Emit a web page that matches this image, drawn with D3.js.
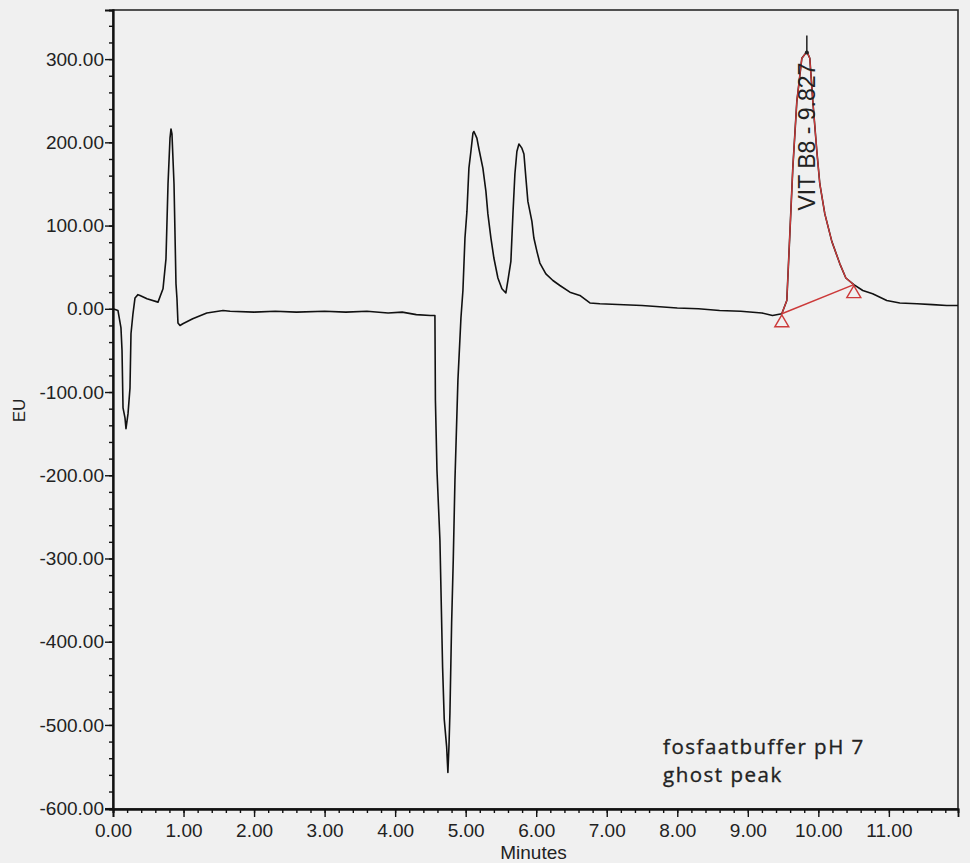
<!DOCTYPE html>
<html>
<head>
<meta charset="utf-8">
<script src="https://cdn.jsdelivr.net/npm/d3@7"></script>
<style>
  html, body { margin: 0; padding: 0; background: #f0f0f0; }
  svg { display: block; }
</style>
</head>
<body>
<svg id="chart" width="970" height="863"></svg>
<script>
// ---- data ----
const times = [
  0.00, 0.07, 0.113, 0.128, 0.142, 0.17, 0.184, 0.213, 0.241, 0.255, 0.283, 0.312, 0.354, 0.383,
  0.482, 0.638, 0.709, 0.751, 0.78, 0.808, 0.822, 0.836, 0.865, 0.893, 0.907, 0.921, 0.95, 0.99,
  1.13, 1.33, 1.56, 1.66, 2.0, 2.3, 2.6, 3.0, 3.3, 3.6, 3.9, 4.1, 4.3, 4.5,
  4.564, 4.571, 4.593, 4.635, 4.673, 4.696, 4.730, 4.748, 4.763, 4.777, 4.801, 4.824, 4.848, 4.89,
  4.933, 4.961, 4.99, 5.018, 5.046, 5.074, 5.103, 5.117, 5.159, 5.188, 5.244, 5.287, 5.315, 5.358,
  5.40, 5.457, 5.514, 5.57, 5.599, 5.641, 5.67, 5.698, 5.726, 5.755, 5.797, 5.826, 5.854, 5.882,
  5.939, 5.967, 6.01, 6.052, 6.137, 6.237, 6.336, 6.478, 6.619, 6.761, 6.903,
  7.5, 8.0, 8.3, 8.6, 8.9, 9.2, 9.35,
  9.482, 9.553, 9.596, 9.638, 9.695, 9.766, 9.837, 9.879, 9.922, 9.979, 10.021, 10.092, 10.191,
  10.305, 10.39, 10.503,
  10.63, 10.77, 10.97, 11.155, 11.40, 11.62, 11.82, 11.98
];
const values = [
  0, -2, -23, -50, -119, -131, -144, -126, -95, -30, -6, 13, 17, 16,
  12, 8, 24, 60, 150, 205, 216, 210, 150, 30, 12, -17, -20, -18,
  -12, -5, -2, -3, -4, -3, -4, -3, -4, -3, -5, -4, -7, -8,
  -8, -110, -194, -278, -431, -493, -526, -557, -526, -485, -377, -302, -206, -86,
  -11, 22, 85, 117, 169, 189, 211, 213, 205, 192, 169, 141, 114, 85,
  61, 37, 24, 19, 34, 57, 114, 162, 189, 198, 193, 186, 157, 129,
  105, 85, 69, 55, 42, 34, 28, 20, 16, 7, 6,
  4, 1, 0, -2, -3, -5, -8,
  -6, 10, 90, 169, 249, 301, 309, 301, 249, 189, 150, 114, 81,
  54, 37, 29,
  22, 18, 10, 7, 6, 5, 4, 4
];

// integrated peak
const peakName = "VIT B8 - 9.827";
const peakStart = [9.482, -6];
const peakEnd = [10.503, 29];
const peakApex = [9.837, 309];

// axes
const xTicks = [0, 1, 2, 3, 4, 5, 6, 7, 8, 9, 10, 11];
const yTicks = [300, 200, 100, 0, -100, -200, -300, -400, -500, -600];
const xLabel = "Minutes";
const yLabel = "EU";
const noteLines = ["fosfaatbuffer pH 7", "ghost peak"];

// ---- layout ----
const L = 113, T = 10, R = 958, B = 809;
const svg = d3.select("#chart");
const x = d3.scaleLinear().domain([0, 11.98]).range([L, R]);
const y = d3.scaleLinear().domain([-601, 359]).range([B, T]);
const fmt = v => d3.format(".2f")(v).replace("\u2212", "-");

svg.append("rect").attr("x", 0).attr("y", 0).attr("width", 970).attr("height", 863).attr("fill", "#f0f0f0");

// frame
svg.append("rect").attr("x", L).attr("y", T).attr("width", R - L).attr("height", B - T)
  .attr("fill", "#f0f0f0").attr("stroke", "#2a2a2a").attr("stroke-width", 1.6);

const tickFont = "'Liberation Sans', Arial, sans-serif";

// x axis
const xMinor = d3.range(0, 11.99, 0.2);
const xAx = svg.append("g").attr("transform", `translate(0,${B})`);
xAx.call(d3.axisBottom(x).tickValues(xMinor).tickSize(4).tickFormat(""));
xAx.append("g").call(d3.axisBottom(x).tickValues(xTicks).tickSize(8).tickPadding(7).tickFormat(fmt));
xAx.selectAll("path.domain").attr("stroke", "#111").attr("stroke-width", 1.8);
xAx.selectAll("line").attr("stroke", "#111").attr("stroke-width", 1.4);
xAx.selectAll("text").attr("font-family", tickFont).attr("font-size", 19).attr("fill", "#222");

// y axis
const yMinor = d3.range(-600, 360, 20);
const yAx = svg.append("g").attr("transform", `translate(${L},0)`);
yAx.call(d3.axisLeft(y).tickValues(yMinor).tickSize(4).tickFormat(""));
yAx.append("g").call(d3.axisLeft(y).tickValues(yTicks).tickSize(8).tickPadding(1).tickFormat(fmt));
yAx.selectAll("path.domain").attr("stroke", "#111").attr("stroke-width", 1.8);
yAx.selectAll("line").attr("stroke", "#111").attr("stroke-width", 1.4);
yAx.selectAll("text").attr("font-family", tickFont).attr("font-size", 19).attr("fill", "#222");

// axis titles
svg.append("text").attr("x", (L + R) / 2 - 2).attr("y", 859).attr("text-anchor", "middle")
  .attr("font-family", tickFont).attr("font-size", 19).attr("fill", "#222").text(xLabel);
svg.append("text").attr("transform", `translate(25,${(T + B) / 2 + 1}) rotate(-90)`)
  .attr("text-anchor", "middle").attr("font-family", tickFont).attr("font-size", 17).attr("fill", "#222").text(yLabel);

// trace
const pts = times.map((t, i) => [t, values[i]]);
const line = d3.line().x(d => x(d[0])).y(d => y(d[1]));
svg.append("path").datum(pts).attr("d", line).attr("fill", "none")
  .attr("stroke", "#111").attr("stroke-width", 1.6).attr("stroke-linejoin", "round");

// peak overlay in red
const peakPts = pts.filter(d => d[0] >= peakStart[0] && d[0] <= peakEnd[0]);
const red = "#cc3a3a";
svg.append("path").datum(peakPts).attr("d", line).attr("fill", "none")
  .attr("stroke", red).attr("stroke-width", 1.3).attr("stroke-linejoin", "round");
svg.append("line").attr("x1", x(peakStart[0])).attr("y1", y(peakStart[1]))
  .attr("x2", x(peakEnd[0])).attr("y2", y(peakEnd[1])).attr("stroke", red).attr("stroke-width", 1.5);

// start/end triangles
[peakStart, peakEnd].forEach(p => {
  const px = x(p[0]), py = y(p[1]);
  svg.append("path").attr("d", `M${px},${py + 1}L${px - 7},${py + 13}L${px + 7},${py + 13}Z`)
    .attr("fill", "none").attr("stroke", red).attr("stroke-width", 1.4);
});

// apex marker
const ax = x(peakApex[0]), ay = y(peakApex[1]);
svg.append("line").attr("x1", ax).attr("x2", ax).attr("y1", ay - 16).attr("y2", ay)
  .attr("stroke", "#111").attr("stroke-width", 1.4);
svg.append("circle").attr("cx", ax).attr("cy", ay + 1).attr("r", 2).attr("fill", "#222");

// peak label
svg.append("text").attr("transform", `translate(${ax + 8},${ay + 11}) rotate(-90)`)
  .attr("text-anchor", "end").attr("font-family", tickFont).attr("font-size", 23).attr("fill", "#222")
  .text(peakName);

// annotation
noteLines.forEach((s, i) => {
  svg.append("text").attr("x", 663).attr("y", 754 + i * 28)
    .attr("font-family", "'Open Sans', sans-serif").attr("font-size", 20.5)
    .attr("letter-spacing", 1.5).attr("fill", "#222")
    .attr("stroke", "#222").attr("stroke-width", 0.35).text(s);
});
</script>
</body>
</html>
